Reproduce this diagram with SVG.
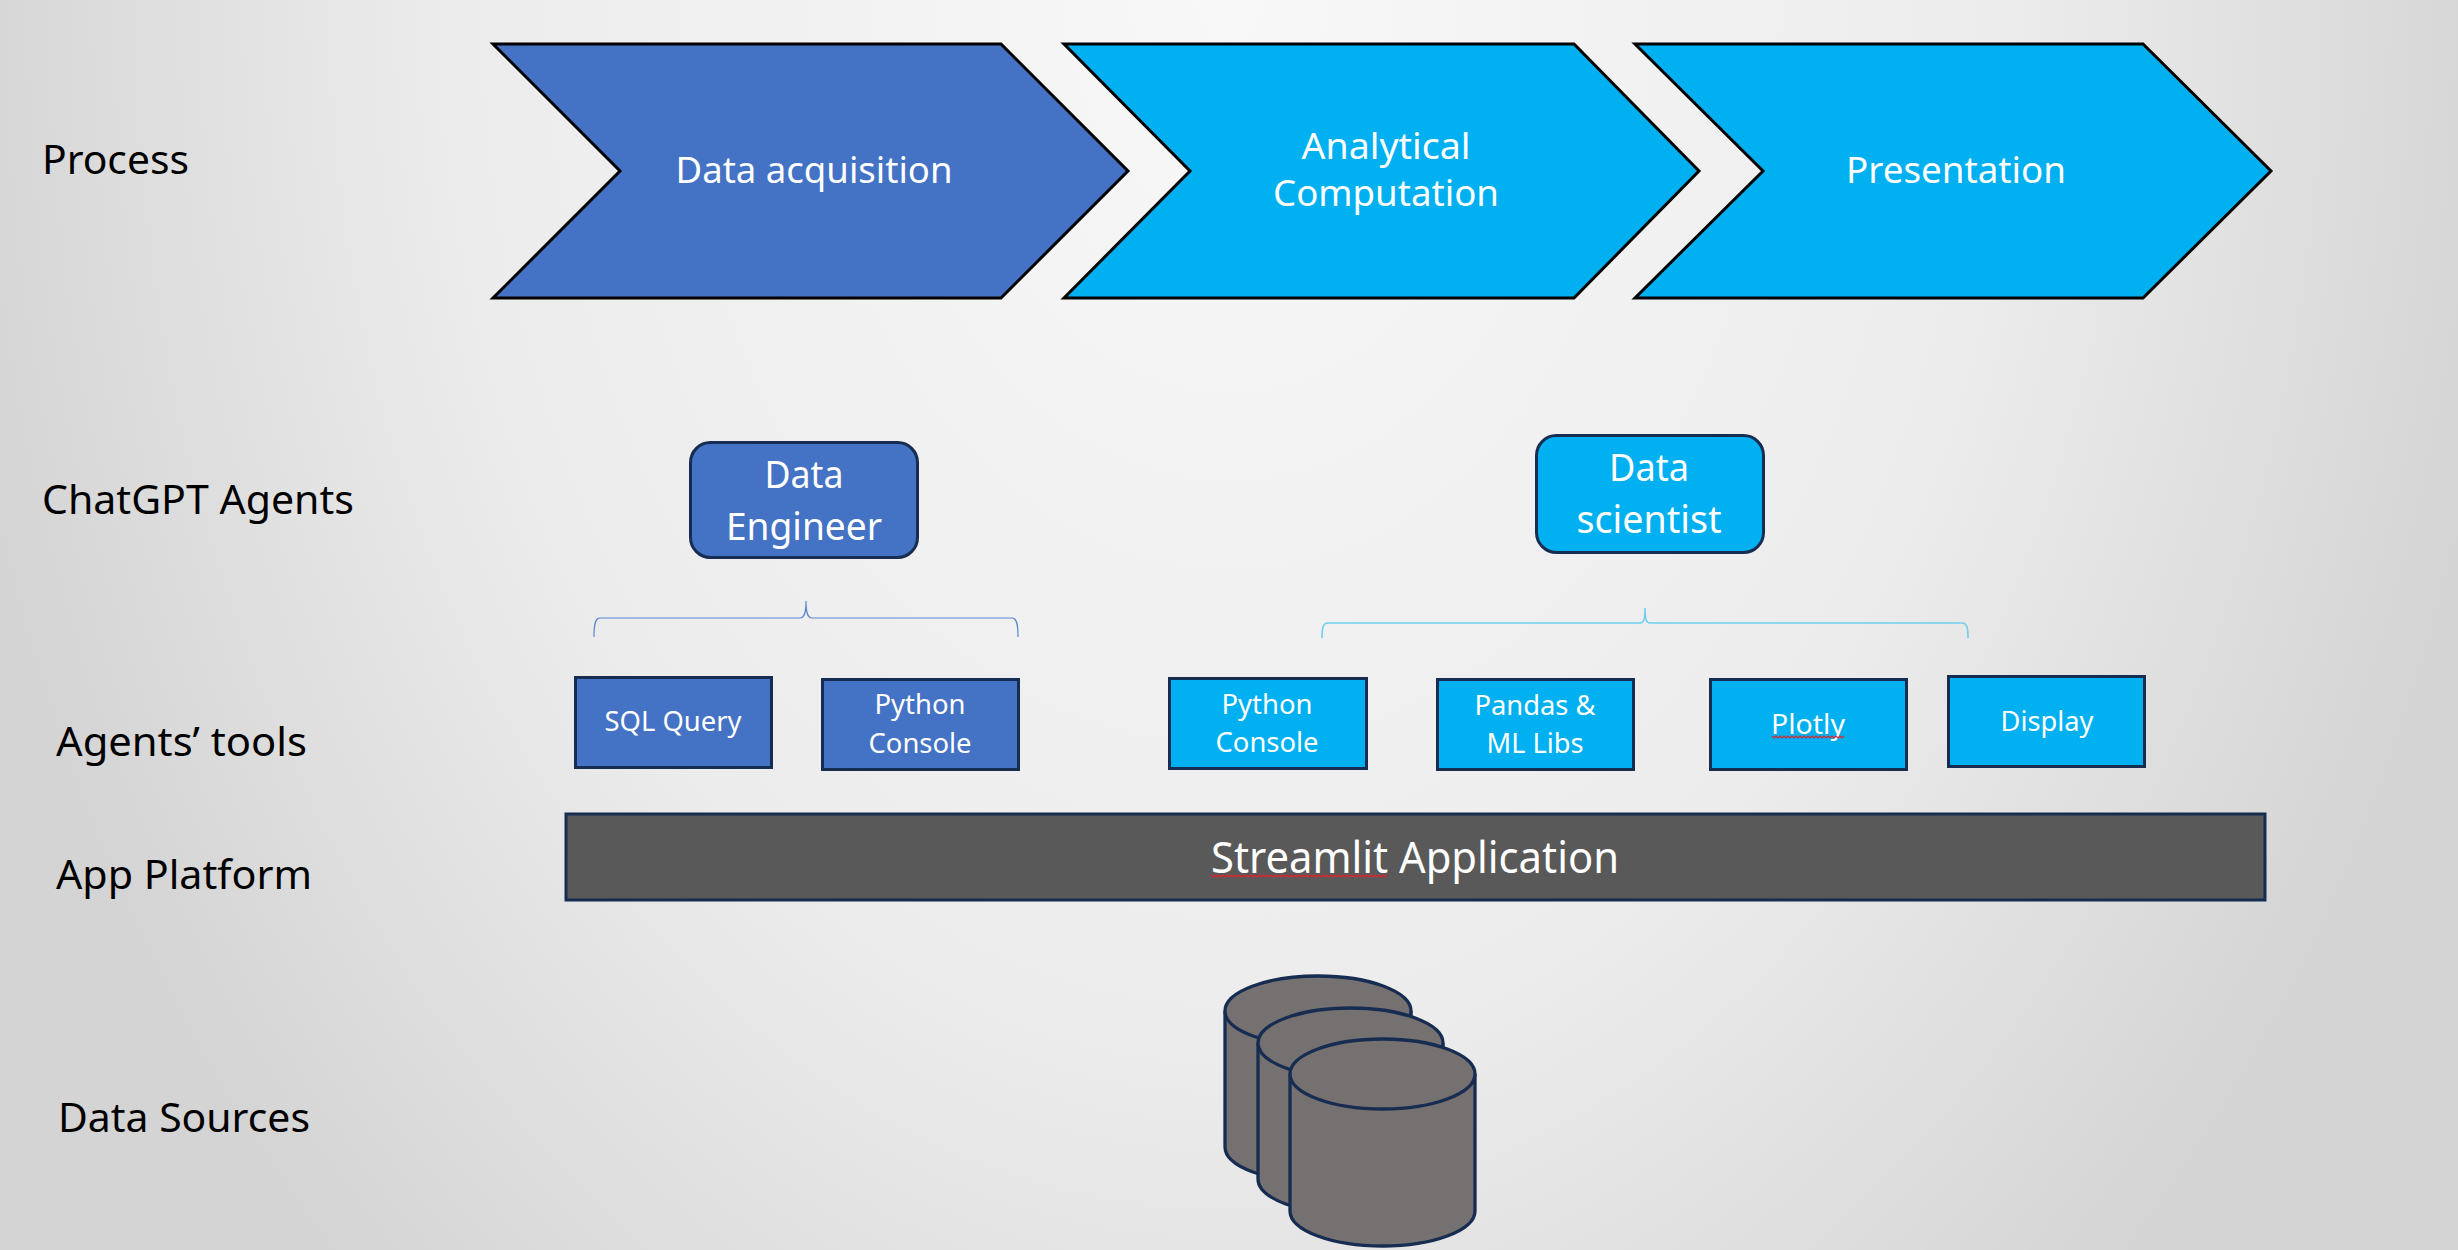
<svg xmlns="http://www.w3.org/2000/svg" width="2458" height="1250" viewBox="0 0 2458 1250">
<style>
text{font-family:"Noto Sans","Open Sans","Liberation Sans",sans-serif;}
.lab{font-size:40px;fill:#000}
.chev{font-size:37px;fill:#fff;text-anchor:middle}
.ag{font-size:39px;fill:#fff;text-anchor:middle}
.tool{font-size:28px;fill:#fff;text-anchor:middle}
.plat{font-size:43px;fill:#fff;text-anchor:middle}
.c{stroke:#000;stroke-width:3;stroke-linejoin:miter}
.n{stroke:#172c51;stroke-width:3}
.blue{fill:#4472c4}
.cyan{fill:#00b0f0}
.cyl{fill:#767171;stroke:#172c51;stroke-width:3.300}
.wave{fill:none;stroke:#e0242c;stroke-width:1.2}
.brace{fill:none}
.b1{stroke:#5a86d0;stroke-width:1.2}
.b2{stroke:#6fcdf0;stroke-width:1.600}
</style>
<defs>
<radialGradient id="bg" gradientUnits="userSpaceOnUse" cx="0" cy="0" r="1" gradientTransform="translate(1229 0) scale(1300 1750)">
<stop offset="0" stop-color="#f8f8f8"/><stop offset="0.6" stop-color="#ececec"/><stop offset="1" stop-color="#d4d4d4"/>
</radialGradient>
</defs>
<rect width="2458" height="1250" fill="url(#bg)"/>
<g id="connectors">
<path class="brace b1" d="M594 637C594 625 595 618 600 618H800C804 618 806 614 806 601C806 614 808 618 812 618H1012C1017 618 1018 625 1018 637"/>
<path class="brace b2" d="M1322 638C1322 628 1323 623 1328 623H1640C1644 623 1645 619 1645 608C1645 619 1646 623 1650 623H1962C1967 623 1968 628 1968 638"/>
</g>
<g id="label-process"><text class="lab" x="42" y="174" textLength="147" lengthAdjust="spacingAndGlyphs">Process</text></g>
<g id="label-agents"><text class="lab" x="42" y="514" textLength="312" lengthAdjust="spacingAndGlyphs">ChatGPT Agents</text></g>
<g id="label-tools"><text class="lab" x="56" y="756" textLength="251" lengthAdjust="spacingAndGlyphs">Agents’ tools</text></g>
<g id="label-platform"><text class="lab" x="56" y="889" textLength="256" lengthAdjust="spacingAndGlyphs">App Platform</text></g>
<g id="label-sources"><text class="lab" x="58" y="1132" textLength="252" lengthAdjust="spacingAndGlyphs">Data Sources</text></g>
<g id="chevron-acquisition"><path class="c blue" d="M493 44H1001L1128 171L1001 298H493L620 171Z"/><text class="chev" x="814" y="183" textLength="277" lengthAdjust="spacingAndGlyphs">Data acquisition</text></g>
<g id="chevron-computation"><path class="c cyan" d="M1064 44H1574L1699 171L1574 298H1064L1190 171Z"/><text class="chev" x="1386" y="159" textLength="169" lengthAdjust="spacingAndGlyphs">Analytical</text><text class="chev" x="1386" y="206" textLength="226" lengthAdjust="spacingAndGlyphs">Computation</text></g>
<g id="chevron-presentation"><path class="c cyan" d="M1635 44H2143L2271 171L2143 298H1635L1763 171Z"/><text class="chev" x="1956" y="183" textLength="220" lengthAdjust="spacingAndGlyphs">Presentation</text></g>
<g id="agent-engineer"><rect class="n blue" x="690.500" y="442.500" width="227" height="115" rx="20"/><text class="ag" x="804" y="488" textLength="79" lengthAdjust="spacingAndGlyphs">Data</text><text class="ag" x="804" y="540" textLength="156" lengthAdjust="spacingAndGlyphs">Engineer</text></g>
<g id="agent-scientist"><rect class="n cyan" x="1536.500" y="435.500" width="227" height="117" rx="20"/><text class="ag" x="1649" y="481" textLength="80" lengthAdjust="spacingAndGlyphs">Data</text><text class="ag" x="1649" y="533" textLength="145" lengthAdjust="spacingAndGlyphs">scientist</text></g>
<g id="tool-sql"><rect class="n blue" x="575.500" y="677.500" width="196" height="90"/><text class="tool" x="673" y="731" textLength="137" lengthAdjust="spacingAndGlyphs">SQL Query</text></g>
<g id="tool-python-de"><rect class="n blue" x="822.500" y="679.500" width="196" height="90"/><text class="tool" x="920" y="714" textLength="91" lengthAdjust="spacingAndGlyphs">Python</text><text class="tool" x="920" y="753" textLength="103" lengthAdjust="spacingAndGlyphs">Console</text></g>
<g id="tool-python-ds"><rect class="n cyan" x="1169.500" y="678.500" width="197" height="90"/><text class="tool" x="1267" y="714" textLength="91" lengthAdjust="spacingAndGlyphs">Python</text><text class="tool" x="1267" y="752" textLength="103" lengthAdjust="spacingAndGlyphs">Console</text></g>
<g id="tool-pandas"><rect class="n cyan" x="1437.500" y="679.500" width="196" height="90"/><text class="tool" x="1535" y="715" textLength="121" lengthAdjust="spacingAndGlyphs">Pandas &amp;</text><text class="tool" x="1535" y="753" textLength="97" lengthAdjust="spacingAndGlyphs">ML Libs</text></g>
<g id="tool-plotly"><rect class="n cyan" x="1710.500" y="679.500" width="196" height="90"/><text class="tool" x="1808" y="734" textLength="74" lengthAdjust="spacingAndGlyphs">Plotly</text><path class="wave" d="M1772 736l2 2 2-2 2 2 2-2 2 2 2-2 2 2 2-2 2 2 2-2 2 2 2-2 2 2 2-2 2 2 2-2 2 2 2-2 2 2 2-2 2 2 2-2 2 2 2-2 2 2 2-2 2 2 2-2 2 2 2-2 2 2 2-2 2 2 2-2 2 2 2-2"/></g>
<g id="tool-display"><rect class="n cyan" x="1948.500" y="676.500" width="196" height="90"/><text class="tool" x="2047" y="731" textLength="93" lengthAdjust="spacingAndGlyphs">Display</text></g>
<g id="platform-streamlit"><rect class="n" fill="#595959" x="566" y="814" width="1699" height="86"/><text class="plat" x="1415" y="873" textLength="408" lengthAdjust="spacingAndGlyphs">Streamlit Application</text><path class="wave" d="M1211 875l2 2 2-2 2 2 2-2 2 2 2-2 2 2 2-2 2 2 2-2 2 2 2-2 2 2 2-2 2 2 2-2 2 2 2-2 2 2 2-2 2 2 2-2 2 2 2-2 2 2 2-2 2 2 2-2 2 2 2-2 2 2 2-2 2 2 2-2 2 2 2-2 2 2 2-2 2 2 2-2 2 2 2-2 2 2 2-2 2 2 2-2 2 2 2-2 2 2 2-2 2 2 2-2 2 2 2-2 2 2 2-2 2 2 2-2 2 2 2-2 2 2 2-2 2 2 2-2 2 2 2-2 2 2 2-2 2 2 2-2 2 2 2-2 2 2 2-2 2 2 2-2 2 2 2-2 2 2 2-2 2 2 2-2 2 2 2-2 2 2 2-2 2 2 2-2"/></g>
<g id="cylinder-1"><path class="cyl" d="M1225 1011A93 35 0 0 1 1411 1011V1147A93 35 0 0 1 1225 1147Z"/><path class="cyl" d="M1225 1011A93 35 0 0 0 1411 1011"/></g>
<g id="cylinder-2"><path class="cyl" d="M1258 1043A92.500 35 0 0 1 1443 1043V1179A92.500 35 0 0 1 1258 1179Z"/><path class="cyl" d="M1258 1043A92.500 35 0 0 0 1443 1043"/></g>
<g id="cylinder-3"><path class="cyl" d="M1290 1074A92.500 35 0 0 1 1475 1074V1211A92.500 35 0 0 1 1290 1211Z"/><path class="cyl" d="M1290 1074A92.500 35 0 0 0 1475 1074"/></g>
</svg>
